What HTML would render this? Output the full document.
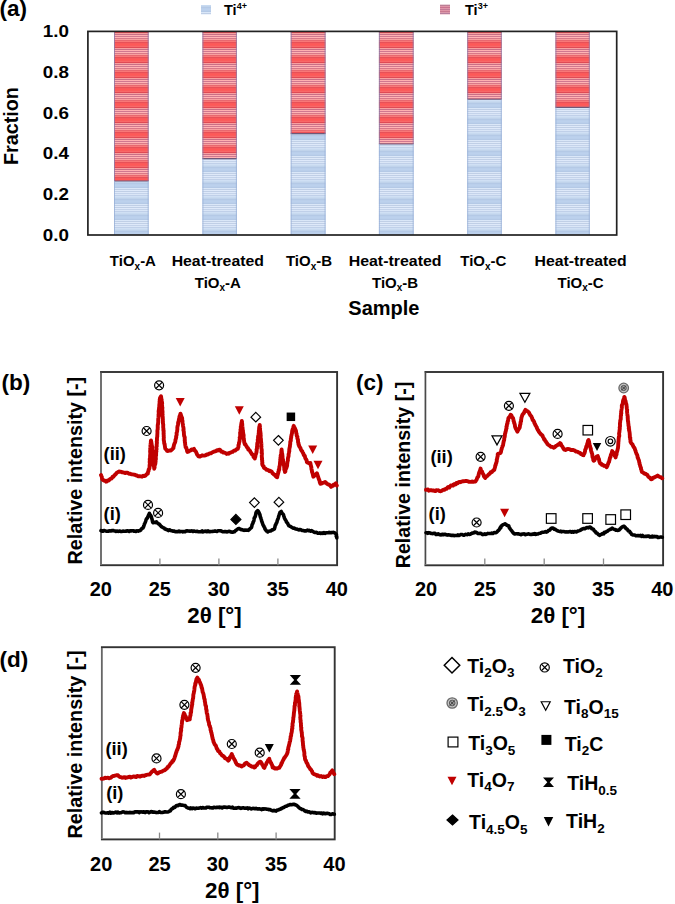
<!DOCTYPE html><html><head><meta charset="utf-8"><style>html,body{margin:0;padding:0;background:#fff;}svg{display:block;}text{font-family:"Liberation Sans", sans-serif;}</style></head><body>
<svg width="675" height="904" viewBox="0 0 675 904">
<defs>
<pattern id="pr" x="0" y="27" width="8" height="15" patternUnits="userSpaceOnUse"><rect y="0" width="8" height="1" fill="#e85058"/><rect y="1" width="8" height="1" fill="#f85a5a"/><rect y="2" width="8" height="1" fill="#ff5858"/><rect y="3" width="8" height="1" fill="#fa5c5c"/><rect y="4" width="8" height="1" fill="#f86868"/><rect y="5" width="8" height="1" fill="#e04a55"/><rect y="6" width="8" height="1" fill="#f8a0a0"/><rect y="7" width="8" height="1" fill="#c87088"/><rect y="8" width="8" height="1" fill="#ffb0b0"/><rect y="9" width="8" height="1" fill="#d07890"/><rect y="10" width="8" height="1" fill="#ffb4b4"/><rect y="11" width="8" height="1" fill="#d87888"/><rect y="12" width="8" height="1" fill="#f8a0a0"/><rect y="13" width="8" height="1" fill="#e86870"/><rect y="14" width="8" height="1" fill="#f87878"/></pattern>
<pattern id="pb" x="0" y="7" width="8" height="16" patternUnits="userSpaceOnUse"><rect y="0" width="8" height="1" fill="#b4c9e6"/><rect y="1" width="8" height="1" fill="#bacfeb"/><rect y="2" width="8" height="1" fill="#bcd1ed"/><rect y="3" width="8" height="1" fill="#bacfeb"/><rect y="4" width="8" height="1" fill="#b4c9e6"/><rect y="5" width="8" height="1" fill="#dae7f8"/><rect y="6" width="8" height="1" fill="#c0cfe6"/><rect y="7" width="8" height="1" fill="#dee9f9"/><rect y="8" width="8" height="1" fill="#c0cfe6"/><rect y="9" width="8" height="1" fill="#dee9fa"/><rect y="10" width="8" height="1" fill="#c4d3ea"/><rect y="11" width="8" height="1" fill="#dae6f7"/><rect y="12" width="8" height="1" fill="#c0d0e9"/><rect y="13" width="8" height="1" fill="#d0e0f4"/><rect y="14" width="8" height="1" fill="#c8daf0"/><rect y="15" width="8" height="1" fill="#c0d3eb"/></pattern>
</defs>
<rect width="675" height="904" fill="#fff"/>
<text x="-0.5" y="16.2" font-size="22.5" text-anchor="start" font-weight="bold" fill="#000">(a)</text>
<rect x="201" y="5" width="10" height="9.5" fill="url(#pb)"/>
<text x="224" y="14.8" font-size="14.5" text-anchor="start" font-weight="bold" fill="#000">Ti<tspan font-size="9" dy="-5.4">4+</tspan></text>
<rect x="440" y="4.8" width="10" height="9.6" fill="#e8a0b0"/>
<rect x="440" y="4.8" width="10" height="1" fill="#b07890"/>
<rect x="440" y="6.8" width="10" height="1" fill="#c06888"/>
<rect x="440" y="8.8" width="10" height="1" fill="#b87090"/>
<rect x="440" y="10.8" width="10" height="1" fill="#c07088"/>
<rect x="440" y="12.8" width="10" height="1" fill="#a87898"/>
<text x="465" y="14.8" font-size="14.5" text-anchor="start" font-weight="bold" fill="#000">Ti<tspan font-size="9" dy="-5.4">3+</tspan></text>
<rect x="114" y="31.3" width="34.7" height="149.7" fill="url(#pr)"/>
<rect x="114" y="181" width="34.7" height="53.8" fill="url(#pb)"/>
<line x1="114" y1="181" x2="148.7" y2="181" stroke="#705878" stroke-width="1.1"/>
<line x1="114.5" y1="31.3" x2="114.5" y2="181" stroke="#8a78a8" stroke-width="1" opacity="0.8"/>
<line x1="148.2" y1="31.3" x2="148.2" y2="181" stroke="#8a78a8" stroke-width="1" opacity="0.8"/>
<line x1="114.5" y1="181" x2="114.5" y2="234.8" stroke="#98b0d8" stroke-width="1" opacity="0.8"/>
<line x1="148.2" y1="181" x2="148.2" y2="234.8" stroke="#98b0d8" stroke-width="1" opacity="0.8"/>
<rect x="202.4" y="31.3" width="34.5" height="127.3" fill="url(#pr)"/>
<rect x="202.4" y="158.6" width="34.5" height="76.2" fill="url(#pb)"/>
<line x1="202.4" y1="158.6" x2="236.9" y2="158.6" stroke="#705878" stroke-width="1.1"/>
<line x1="202.9" y1="31.3" x2="202.9" y2="158.6" stroke="#8a78a8" stroke-width="1" opacity="0.8"/>
<line x1="236.4" y1="31.3" x2="236.4" y2="158.6" stroke="#8a78a8" stroke-width="1" opacity="0.8"/>
<line x1="202.9" y1="158.6" x2="202.9" y2="234.8" stroke="#98b0d8" stroke-width="1" opacity="0.8"/>
<line x1="236.4" y1="158.6" x2="236.4" y2="234.8" stroke="#98b0d8" stroke-width="1" opacity="0.8"/>
<rect x="290.7" y="31.3" width="34.9" height="102.3" fill="url(#pr)"/>
<rect x="290.7" y="133.6" width="34.9" height="101.2" fill="url(#pb)"/>
<line x1="290.7" y1="133.6" x2="325.6" y2="133.6" stroke="#705878" stroke-width="1.1"/>
<line x1="291.2" y1="31.3" x2="291.2" y2="133.6" stroke="#8a78a8" stroke-width="1" opacity="0.8"/>
<line x1="325.1" y1="31.3" x2="325.1" y2="133.6" stroke="#8a78a8" stroke-width="1" opacity="0.8"/>
<line x1="291.2" y1="133.6" x2="291.2" y2="234.8" stroke="#98b0d8" stroke-width="1" opacity="0.8"/>
<line x1="325.1" y1="133.6" x2="325.1" y2="234.8" stroke="#98b0d8" stroke-width="1" opacity="0.8"/>
<rect x="378.9" y="31.3" width="34.8" height="112.7" fill="url(#pr)"/>
<rect x="378.9" y="144" width="34.8" height="90.8" fill="url(#pb)"/>
<line x1="378.9" y1="144" x2="413.7" y2="144" stroke="#705878" stroke-width="1.1"/>
<line x1="379.4" y1="31.3" x2="379.4" y2="144" stroke="#8a78a8" stroke-width="1" opacity="0.8"/>
<line x1="413.2" y1="31.3" x2="413.2" y2="144" stroke="#8a78a8" stroke-width="1" opacity="0.8"/>
<line x1="379.4" y1="144" x2="379.4" y2="234.8" stroke="#98b0d8" stroke-width="1" opacity="0.8"/>
<line x1="413.2" y1="144" x2="413.2" y2="234.8" stroke="#98b0d8" stroke-width="1" opacity="0.8"/>
<rect x="467.2" y="31.3" width="34.6" height="68" fill="url(#pr)"/>
<rect x="467.2" y="99.3" width="34.6" height="135.5" fill="url(#pb)"/>
<line x1="467.2" y1="99.3" x2="501.8" y2="99.3" stroke="#705878" stroke-width="1.1"/>
<line x1="467.7" y1="31.3" x2="467.7" y2="99.3" stroke="#8a78a8" stroke-width="1" opacity="0.8"/>
<line x1="501.3" y1="31.3" x2="501.3" y2="99.3" stroke="#8a78a8" stroke-width="1" opacity="0.8"/>
<line x1="467.7" y1="99.3" x2="467.7" y2="234.8" stroke="#98b0d8" stroke-width="1" opacity="0.8"/>
<line x1="501.3" y1="99.3" x2="501.3" y2="234.8" stroke="#98b0d8" stroke-width="1" opacity="0.8"/>
<rect x="555.4" y="31.3" width="34.4" height="76.1" fill="url(#pr)"/>
<rect x="555.4" y="107.4" width="34.4" height="127.4" fill="url(#pb)"/>
<line x1="555.4" y1="107.4" x2="589.8" y2="107.4" stroke="#705878" stroke-width="1.1"/>
<line x1="555.9" y1="31.3" x2="555.9" y2="107.4" stroke="#8a78a8" stroke-width="1" opacity="0.8"/>
<line x1="589.3" y1="31.3" x2="589.3" y2="107.4" stroke="#8a78a8" stroke-width="1" opacity="0.8"/>
<line x1="555.9" y1="107.4" x2="555.9" y2="234.8" stroke="#98b0d8" stroke-width="1" opacity="0.8"/>
<line x1="589.3" y1="107.4" x2="589.3" y2="234.8" stroke="#98b0d8" stroke-width="1" opacity="0.8"/>
<rect x="87.9" y="31.4" width="528.8" height="203.6" fill="none" stroke="#222" stroke-width="1.7"/>
<text x="68.9" y="240.7" font-size="16.8" text-anchor="end" font-weight="bold" fill="#000" textLength="26.2" lengthAdjust="spacingAndGlyphs">0.0</text>
<text x="68.9" y="200" font-size="16.8" text-anchor="end" font-weight="bold" fill="#000" textLength="26.2" lengthAdjust="spacingAndGlyphs">0.2</text>
<text x="68.9" y="159.3" font-size="16.8" text-anchor="end" font-weight="bold" fill="#000" textLength="26.2" lengthAdjust="spacingAndGlyphs">0.4</text>
<text x="68.9" y="118.6" font-size="16.8" text-anchor="end" font-weight="bold" fill="#000" textLength="26.2" lengthAdjust="spacingAndGlyphs">0.6</text>
<text x="68.9" y="77.9" font-size="16.8" text-anchor="end" font-weight="bold" fill="#000" textLength="26.2" lengthAdjust="spacingAndGlyphs">0.8</text>
<text x="68.9" y="37.2" font-size="16.8" text-anchor="end" font-weight="bold" fill="#000" textLength="26.2" lengthAdjust="spacingAndGlyphs">1.0</text>
<text transform="translate(18.4,126.1) rotate(-90)" x="0" y="0" font-size="20.5" text-anchor="middle" font-weight="bold" textLength="78" lengthAdjust="spacingAndGlyphs">Fraction</text>
<text x="132.9" y="266.4" font-size="15" text-anchor="middle" font-weight="bold" fill="#000">TiO<tspan font-size="10" dy="3.5">x</tspan><tspan dy="-3.5">-A</tspan></text>
<text x="217.8" y="266.4" font-size="15" text-anchor="middle" font-weight="bold" fill="#000" textLength="92.3" lengthAdjust="spacingAndGlyphs">Heat-treated</text>
<text x="217.8" y="287.7" font-size="15" text-anchor="middle" font-weight="bold" fill="#000">TiO<tspan font-size="10" dy="3.5">x</tspan><tspan dy="-3.5">-A</tspan></text>
<text x="309" y="266.4" font-size="15" text-anchor="middle" font-weight="bold" fill="#000">TiO<tspan font-size="10" dy="3.5">x</tspan><tspan dy="-3.5">-B</tspan></text>
<text x="395.1" y="266.4" font-size="15" text-anchor="middle" font-weight="bold" fill="#000" textLength="92.8" lengthAdjust="spacingAndGlyphs">Heat-treated</text>
<text x="395.1" y="287.7" font-size="15" text-anchor="middle" font-weight="bold" fill="#000">TiO<tspan font-size="10" dy="3.5">x</tspan><tspan dy="-3.5">-B</tspan></text>
<text x="483.3" y="266.4" font-size="15" text-anchor="middle" font-weight="bold" fill="#000">TiO<tspan font-size="10" dy="3.5">x</tspan><tspan dy="-3.5">-C</tspan></text>
<text x="580.6" y="266.4" font-size="15" text-anchor="middle" font-weight="bold" fill="#000" textLength="92.2" lengthAdjust="spacingAndGlyphs">Heat-treated</text>
<text x="580.6" y="287.7" font-size="15" text-anchor="middle" font-weight="bold" fill="#000">TiO<tspan font-size="10" dy="3.5">x</tspan><tspan dy="-3.5">-C</tspan></text>
<text x="383.9" y="314.7" font-size="20" text-anchor="middle" font-weight="bold" fill="#000">Sample</text>
<text x="1.5" y="389.8" font-size="22.5" text-anchor="start" font-weight="bold" fill="#000">(b)</text>
<rect x="101" y="372" width="236.1" height="193.2" fill="none" stroke="#333" stroke-width="1.9"/>
<line x1="101" y1="372.9" x2="101" y2="564.3" stroke="#fff" stroke-width="2.2"/>
<line x1="101" y1="372.9" x2="101" y2="564.3" stroke="#6a6a6a" stroke-width="1.9"/>
<line x1="159.9" y1="565.2" x2="159.9" y2="558.4" stroke="#8a8a8a" stroke-width="1.3"/>
<line x1="218.9" y1="565.2" x2="218.9" y2="558.4" stroke="#8a8a8a" stroke-width="1.3"/>
<line x1="277.9" y1="565.2" x2="277.9" y2="558.4" stroke="#8a8a8a" stroke-width="1.3"/>
<text x="100.8" y="595.6" font-size="20" text-anchor="middle" font-weight="bold" fill="#000">20</text>
<text x="159.8" y="595.6" font-size="20" text-anchor="middle" font-weight="bold" fill="#000">25</text>
<text x="218.8" y="595.6" font-size="20" text-anchor="middle" font-weight="bold" fill="#000">30</text>
<text x="277.8" y="595.6" font-size="20" text-anchor="middle" font-weight="bold" fill="#000">35</text>
<text x="336.8" y="595.6" font-size="20" text-anchor="middle" font-weight="bold" fill="#000">40</text>
<text x="214.5" y="622.9" font-size="22" text-anchor="middle" font-weight="bold" fill="#000" textLength="54.5" lengthAdjust="spacingAndGlyphs">2θ [°]</text>
<text transform="translate(81.8,470.6) rotate(-90)" x="0" y="0" font-size="19.5" text-anchor="middle" font-weight="bold" textLength="187.6" lengthAdjust="spacingAndGlyphs">Relative intensity [-]</text>
<text x="103.6" y="460.1" font-size="18.3" text-anchor="start" font-weight="bold" fill="#000">(ii)</text>
<text x="103.6" y="519.9" font-size="18.3" text-anchor="start" font-weight="bold" fill="#000">(i)</text>
<path d="M101 475 L101.28 475.72 L101.76 476.73 L102.06 478.15 L102.4 479.4 L103.12 479.98 L104.01 480.48 L104.93 480.67 L106 481.7 L106.85 481.54 L107.62 480.36 L108.7 480.64 L109.56 479.52 L110.61 478.62 L111.3 478.6 L112.19 477.62 L112.66 476.68 L113.47 476.7 L114.17 475.69 L115.11 474.71 L115.8 474.1 L116.59 472.94 L117.17 472.43 L118.2 472 L118.9 471.4 L119.83 471.72 L120.88 471.63 L122.02 472.29 L122.9 472.3 L123.86 472.56 L125.03 473.07 L126.17 472.61 L127.33 472.6 L128.2 473.2 L129.25 473.76 L130.22 473.75 L131.26 474.23 L132.63 474.4 L133.6 474.6 L134.78 474.68 L135.74 475.27 L136.73 475.4 L137.87 476.22 L138.76 476.2 L139.8 476.3 L140.68 476.44 L141.98 476.68 L143.11 475.82 L143.99 476.17 L145.1 475.9 L145.81 475.12 L146.77 474.01 L147.8 473.7 L147.88 472.98 L148.17 471.39 L148.53 471.07 L148.66 469.59 L149.11 469.05 L149.47 468.01 L149.6 466.6 L149.56 465.47 L149.63 464.95 L149.91 463.1 L149.65 462.16 L149.71 461.4 L149.9 460.11 L149.71 459.25 L149.9 458.37 L150.17 457.47 L150.04 456.35 L150.15 454.7 L150.28 454.46 L150.32 453.44 L150.17 451.96 L150.1 451.19 L150.3 450 L150.2 448.47 L150.34 447.52 L150.47 446.34 L150.41 445.39 L150.53 444.57 L150.58 444.08 L150.89 442.22 L150.82 441.39 L151 440.5 L151.15 441.19 L151.54 443.24 L151.59 443.78 L151.63 444.46 L152 446 L152 446.74 L152.26 447.63 L152 449.5 L152.26 449.61 L152.33 450.48 L152.39 452.53 L152.58 453.22 L152.4 453.85 L152.43 455.3 L152.64 456.31 L152.62 456.7 L152.87 458.53 L152.95 459.34 L153 460.26 L152.83 461.02 L153 462 L153.14 462.6 L153.21 463.99 L153.5 465.56 L153.98 466.41 L154.17 468.12 L154.2 468.7 L154.6 467.43 L154.52 466.17 L154.73 465.02 L155.12 464.67 L155.42 463.09 L155.5 462 L155.63 461.33 L155.47 460.18 L155.87 459.31 L155.87 457.98 L155.71 457.32 L155.84 456.33 L156.17 454.89 L156.01 454.49 L156.2 452.64 L156.03 451.62 L156.41 451.34 L156.18 450.36 L156.58 449.17 L156.39 448.05 L156.38 446.47 L156.78 446.16 L156.67 445.48 L156.7 444.41 L156.93 442.68 L156.76 441.77 L156.83 441.1 L157 440 L156.96 438.91 L156.97 438.45 L157.12 436.95 L157.27 436.44 L157.27 435.46 L157.36 434.04 L157.43 432.47 L157.46 431.65 L157.34 431.33 L157.47 429.97 L157.75 429.06 L157.65 428.02 L157.8 427.31 L157.68 426.07 L157.8 424.75 L158.07 424.01 L158.04 423.29 L158.24 421.94 L158.19 421.01 L158.2 420.21 L158.24 419.04 L158.31 418.49 L158.46 417.41 L158.62 415.74 L158.5 415 L158.61 414.49 L158.81 412.6 L158.61 411.94 L158.68 410.71 L158.77 410.19 L159.14 409.44 L158.98 408.24 L159.27 406.61 L159.45 406.51 L159.27 405.5 L159.43 403.99 L159.75 403.37 L159.51 401.92 L159.74 400.82 L159.7 399.8 L160 398.47 L160 398 L161 396.3 L161.22 397.37 L161.21 398.39 L161.65 399.73 L161.63 401.39 L162 402 L162.17 403.52 L161.94 403.74 L161.97 405.31 L162.11 405.59 L162.22 407.45 L162.43 407.73 L162.21 409.46 L162.43 410.22 L162.29 410.51 L162.58 411.92 L162.38 413.48 L162.65 414.33 L162.48 415.39 L162.53 416.4 L162.73 416.82 L162.82 418.47 L162.76 418.59 L162.91 419.71 L162.79 420.63 L163 422 L162.87 422.67 L163.03 423.79 L163.26 424.77 L163.21 425.65 L163.2 426.47 L163.22 427.47 L163.46 429.06 L163.3 429.97 L163.65 430.57 L163.65 431.93 L163.58 433.37 L163.59 434.01 L163.76 435.53 L163.67 436.37 L163.87 437.15 L163.8 437.83 L163.72 438.59 L163.78 440.26 L164 441 L164.09 441.63 L164.21 443.38 L164.71 444.19 L164.66 444.72 L164.85 445.96 L164.99 446.94 L165.22 448.51 L165.5 449 L166.52 449.72 L167.06 450.85 L168 451 L168.92 450.68 L169.8 450.54 L171 450.5 L171.82 449.67 L172.55 448.84 L173.5 448 L173.55 446.74 L173.84 445.89 L174.07 444.47 L174.42 443.71 L174.78 443.03 L175.1 442.17 L175.34 441.42 L175.46 439.81 L175.94 438.61 L176 438 L176.23 437.16 L176.11 436.37 L176.59 435.14 L176.67 434.34 L176.57 433.03 L176.86 432.37 L177.13 431.36 L177.18 430.43 L177.37 429.21 L177.33 427.48 L177.43 426.85 L177.57 426.37 L177.89 425.14 L178.06 424.2 L178.15 422.45 L178.3 422 L178.68 421.22 L178.83 419.94 L179.15 418.37 L179.44 417.53 L179.44 416.49 L179.97 415.38 L180.23 415.17 L180.4 413.6 L180.8 414.57 L181.19 416 L181.71 417.03 L182 418 L182.19 418.54 L182.12 419.73 L182.48 420.78 L182.54 421.46 L182.47 422.75 L182.84 424.21 L182.97 424.77 L183.04 425.96 L183.14 426.58 L183.44 427.67 L183.61 429.48 L183.35 429.95 L183.8 431.51 L183.8 432 L183.9 432.75 L183.93 434.49 L184.05 435.09 L184.14 436.03 L184.59 436.6 L184.66 438.01 L184.8 439.22 L184.66 440.44 L184.89 440.48 L184.82 441.99 L185.12 442.78 L185.11 443.83 L185.31 445.37 L185.5 446 L185.62 447.26 L186.27 447.55 L186.62 449.18 L186.93 449.7 L187.03 450.8 L187.4 451.9 L188.63 451.53 L189.41 450.89 L190.5 450.5 L191.58 449.47 L192.67 449.8 L194 448.9 L194.54 450.4 L195.15 450.69 L195.88 451.63 L196.5 453 L197.12 454.6 L197.99 455.54 L198.5 456.3 L199.73 456.59 L201.04 456.03 L202.13 455.32 L203.31 455.61 L204.4 455.5 L205.7 455.33 L206.71 454.34 L208 454.5 L209.15 453.62 L209.94 453.38 L210.84 453.34 L211.9 452.6 L213.12 451.94 L214.01 451.58 L215 451.28 L216 451 L216.97 450.16 L218.08 450.51 L219.3 449.6 L220.22 450.02 L221.31 451.6 L222.05 451.38 L223 452.5 L224.11 452.55 L225.4 453.05 L226.7 454 L227.58 453.38 L228.69 453.73 L229.75 452.85 L230.6 452.63 L231.57 452.07 L232.6 451.9 L233.29 451.16 L234.52 450.49 L235.2 450.54 L236.21 449.59 L236.84 449.12 L237.8 448.9 L237.96 447.85 L238.38 447.31 L238.55 445.41 L238.41 445.17 L238.96 443.93 L239.03 442.42 L239.16 442.45 L239.53 441.38 L239.6 440 L239.89 438.72 L239.64 437.62 L239.91 437.2 L240.18 436.24 L240.16 435.29 L240.18 434.06 L240.12 433.31 L240.29 432.46 L240.56 430.78 L240.45 429.73 L240.75 429.22 L240.8 428 L240.79 426.53 L241.1 426.09 L241.18 424.7 L241.41 423.46 L241.43 422.96 L241.84 422.16 L241.8 421 L242.06 421.97 L241.91 422.72 L242.31 424.23 L242.16 424.47 L242.34 426.19 L242.42 426.73 L242.63 428.47 L242.56 428.49 L242.72 429.91 L242.96 430.67 L243 432 L243.25 433.26 L243.26 433.68 L243.57 434.79 L243.64 435.7 L243.52 437.29 L243.68 438.5 L243.89 438.66 L243.91 439.91 L244.21 441.49 L244.13 441.88 L244.4 443 L244.86 444.4 L245.41 444.26 L245.95 445.51 L246.86 446.92 L247.37 447.92 L248.02 448.06 L248.3 449.6 L249 450 L249.68 450.34 L250.23 451.57 L250.69 452.36 L251.19 452.85 L251.81 454.09 L252.66 454.69 L253.25 455.63 L253.58 457.15 L254.35 457.58 L254.8 458.5 L254.9 457.39 L255.32 456.79 L255.53 455.1 L256.09 453.65 L256.18 453.43 L256.5 452 L256.71 450.49 L256.53 449.52 L256.99 448.73 L257.03 448.44 L256.97 446.75 L257.33 446.13 L257.15 445.24 L257.28 443.75 L257.27 443.28 L257.74 442.15 L257.86 440.48 L257.68 439.97 L258.08 439.5 L258 438 L258.09 436.72 L258.23 435.98 L258.56 434.63 L258.64 434.23 L258.78 433.26 L258.83 431.76 L258.84 430.79 L259.16 429.48 L259.06 429.21 L259.21 427.44 L259.25 426.97 L259.5 426.44 L259.7 424.9 L259.94 426.44 L259.78 426.46 L259.8 427.92 L260.13 428.87 L260.03 429.84 L260.27 431.13 L260.41 432.33 L260.46 432.54 L260.62 433.73 L260.59 434.83 L260.75 435.64 L260.64 436.7 L260.69 438.41 L260.94 438.8 L261 440 L261.02 441.58 L261.12 441.78 L261.3 443.28 L261.43 443.71 L261.28 445.54 L261.49 446.68 L261.22 447.04 L261.31 447.96 L261.71 449.43 L261.76 450.23 L261.79 451.36 L261.6 452.76 L261.94 453.05 L261.86 454.66 L261.76 455.42 L261.79 456.27 L261.89 457.75 L262.11 458.35 L261.91 459.52 L262.24 460.4 L262.15 461.46 L262.4 462.88 L262.17 463.42 L262.4 464.9 L262.93 465.83 L263.61 466.2 L263.99 467.74 L264.7 468.4 L265.56 468.61 L266.42 469.8 L267.32 469.82 L268.24 470.11 L269.35 471.2 L270.05 470.77 L271.09 471.22 L271.9 472 L272.46 473.2 L273.38 473.87 L274.13 474.69 L274.91 474.66 L275.49 475.84 L276.5 476.99 L277.2 477.3 L277.27 476.4 L277.62 475.24 L277.76 473.96 L278.14 473.63 L278.21 472.12 L278.72 471.61 L278.71 469.66 L279.24 469.56 L279.3 468 L279.42 466.48 L279.73 465.82 L279.85 465.05 L279.94 463.52 L280.05 462.56 L280.03 462.21 L280.33 460.46 L280.21 459.67 L280.46 458.62 L280.43 457.44 L280.8 457.13 L280.65 455.74 L281.06 454.13 L281.22 453.19 L281.26 452.64 L281.4 451.34 L281.44 450.62 L281.6 449.5 L281.7 450.72 L281.85 451.52 L281.81 452.76 L282.13 453.38 L282.37 455.02 L282.38 455.4 L282.52 456.36 L282.52 457.76 L282.64 458.81 L282.94 459.41 L283.12 460.5 L283.2 462 L283.46 463.31 L283.54 463.51 L283.71 464.87 L284.06 465.6 L284.19 467.55 L284.31 468.35 L284.27 469.53 L284.56 470.5 L284.9 470.63 L284.9 472 L285.37 471.47 L285.43 469.84 L286.05 468.62 L286.46 467.75 L286.78 466.61 L287 466 L287.14 465.46 L287.17 463.74 L287.43 462.8 L287.39 461.65 L287.58 461.48 L287.93 460.43 L287.87 459.31 L287.99 458.03 L288.34 456.85 L288.58 456.06 L288.6 455.42 L288.56 454.54 L288.91 452.88 L289.12 451.74 L289.34 451.09 L289.23 450.29 L289.41 448.64 L289.67 447.5 L289.84 446.73 L289.91 446.53 L290 445 L290.2 444.18 L290.26 442.45 L290.31 441.61 L290.71 440.93 L290.84 440.44 L290.85 438.7 L291.23 437.47 L291.13 436.84 L291.34 435.84 L291.56 435.09 L291.87 433.67 L292.05 432.97 L292.02 432.48 L292.23 430.61 L292.5 430 L292.66 429.13 L293.3 428.26 L293.44 426.67 L293.8 425.9 L294.04 427.08 L294.7 427.78 L295.18 428.9 L295.73 430.24 L296 431 L296.11 432.44 L296.23 433.03 L296.58 433.71 L296.65 435.31 L296.84 436.06 L297.42 436.61 L297.33 438.12 L297.66 439.16 L297.99 439.64 L297.99 440.78 L298.09 442.43 L298.59 443.24 L298.49 444.38 L298.99 444.96 L299.1 446 L299.68 446.82 L299.97 447.32 L300.46 448.12 L300.98 449.77 L301.62 450.75 L302.11 450.99 L302.53 452.05 L303 453 L303.56 453.98 L303.79 455.06 L304.51 455.54 L304.91 456.27 L305.1 457.46 L305.74 459.19 L306.18 459.46 L306.67 460.41 L306.86 462 L307.4 462.5 L308.45 462.91 L309.47 463.43 L310.4 463.1 L310.61 464.52 L310.93 465.59 L311.04 466.49 L311.32 467.07 L311.4 468.47 L311.57 469.83 L311.82 469.9 L312.03 471.94 L312.35 472.12 L312.44 473.06 L312.93 474.75 L313.16 475.91 L313.3 476.7 L313.85 476.1 L314.69 475.65 L315.59 475.03 L316.01 474.3 L316.9 473.2 L317.38 474.65 L317.38 474.8 L317.7 475.58 L318.31 477.4 L318.54 478.38 L318.86 478.75 L318.97 479.5 L319.55 480.58 L319.69 481.79 L319.89 482.57 L320.4 483.8 L321.27 483.68 L322.27 482.88 L323.47 482.72 L324.38 482.49 L325.2 482 L325.86 482.59 L326.86 483.67 L327.67 484.28 L328.59 484.43 L329.56 484.98 L330.39 485.75 L331.1 486.8 L331.84 485.75 L333.08 485.89 L333.72 484.63 L334.86 484.25 L335.8 483.2 L336.17 484.39 L336.8 485.6" fill="none" stroke="#c00000" stroke-width="3.9" stroke-linejoin="round" stroke-linecap="round"/>
<path d="M101 530.7 L101.94 531.1 L102.9 531.25 L103.91 530.49 L105.08 530.83 L105.84 531.02 L106.83 531.22 L108.08 531.25 L109.05 530.81 L110 531 L110.96 530.9 L112.16 530.57 L113.16 530.52 L113.88 530.79 L115.16 531.07 L115.95 531.5 L116.89 531.05 L118.01 531.39 L119.1 531.28 L119.94 530.94 L120.86 531.52 L122.06 531.43 L122.87 531.11 L124.11 531.27 L125 531.2 L125.85 531.14 L127.15 530.87 L127.88 530.92 L129.08 531.5 L129.86 530.72 L130.9 530.89 L132.01 530.69 L132.93 530.7 L134.19 531.27 L135 531 L135.84 531.45 L136.84 530.75 L138.19 531.14 L139.09 530.69 L140 530.7 L140.63 530.18 L141.34 529.03 L142.21 528.16 L143 528 L143.33 527.32 L143.83 526 L144.18 524.96 L144.36 524.11 L144.84 523.27 L145.41 521.92 L145.65 521.27 L146 520 L146.45 518.76 L147.06 518.53 L147.57 517.39 L148.08 516.43 L148.49 515.24 L148.84 514.48 L149.4 513.4 L149.77 514.18 L150.58 515.37 L151 516 L151.39 516.84 L151.64 518.18 L152.05 519.25 L152.4 520.94 L152.54 521.75 L153 522.7 L154.28 522.28 L155.33 522.62 L156.5 521.8 L157.15 522.58 L158.03 523.58 L159 524 L159.93 524.77 L160.34 525.58 L161.27 526.49 L162 527 L162.94 527.62 L164 527.96 L164.76 528.89 L165.62 529.07 L166.62 529.62 L167.6 529.8 L168.51 530.58 L169.66 529.8 L170.68 530.42 L171.63 530.68 L172.85 531.23 L173.88 531 L175 531.5 L175.89 531.75 L177.18 531.49 L177.89 531.77 L178.96 531.1 L179.85 531.7 L181.12 531.53 L181.99 531.43 L182.89 531.85 L183.94 531.47 L185.13 531.65 L185.99 531.05 L187.02 530.85 L188.13 531.08 L189.14 530.96 L190 531.2 L190.95 530.95 L191.97 530.89 L192.8 531.5 L193.91 531 L194.92 531.28 L195.97 531.47 L197.06 531.19 L198.17 531.75 L198.82 531.74 L200.16 531.71 L200.86 531.78 L202.05 530.91 L202.8 531.96 L204.06 531.21 L205 531.5 L205.84 531.05 L206.89 531.68 L207.94 530.94 L209.16 531.58 L209.87 531.63 L211.04 531.45 L212.07 531.51 L213.12 531.39 L213.88 531.17 L215 530.9 L216.01 531.23 L216.98 531.44 L218.02 530.82 L218.89 530.74 L220 530.71 L220.99 530.87 L222 531.32 L223.02 531.78 L223.8 531.81 L225 531.5 L226.05 531.62 L227.19 531.97 L228.14 531.56 L229.43 531.23 L230.37 531.9 L231.19 531.92 L232.51 532.32 L233.5 531.9 L234.43 531.8 L235.5 530.62 L236.5 530 L237.91 528.74 L239 528.5 L240.09 529.01 L240.94 529.65 L241.95 529.6 L243 530 L244.07 530.38 L245 530.09 L246.15 530.3 L247.37 530.09 L248.3 530.4 L249.33 529.49 L250.1 528.55 L251 528 L251.38 527.52 L251.81 526.32 L252.06 524.8 L252.42 524.1 L252.93 523.31 L253.07 522.24 L253.78 521.05 L254 520 L254.11 518.78 L254.38 517.66 L255.03 517.12 L255.21 516.32 L255.6 515.12 L255.77 514.14 L256.09 513.11 L256.3 512 L257.6 510.6 L258.47 511.48 L259.2 513 L259.58 513.95 L259.93 514.56 L260.01 515.49 L260.55 517.46 L260.82 517.86 L261.2 519.32 L261.4 519.73 L261.61 520.91 L262 522 L262.36 522.92 L262.91 524.48 L263.11 525.07 L263.53 525.58 L264.27 527.08 L264.74 527.94 L265 529 L265.51 529.6 L266.44 530.93 L267.29 531.15 L267.8 531.9 L268.83 531.16 L269.99 530.98 L271 531 L271.96 529.8 L273 529.87 L274.3 529 L274.5 528.51 L274.85 527.41 L275.22 525.47 L275.81 524.72 L276.17 523.66 L276.25 523.3 L276.87 522.39 L277.24 520.54 L277.5 520 L277.91 519.16 L278.2 518.33 L278.47 517.3 L279.02 515.18 L279.09 514.81 L279.77 513.11 L280 512.5 L281.3 511.5 L281.79 512.59 L282.3 513.56 L283 514 L283.41 514.52 L283.78 516.08 L284.23 517.19 L284.52 518.33 L285.03 519.16 L285.5 520 L286.07 520.79 L286.49 522.07 L287.24 522.95 L287.61 523.29 L288.1 524.4 L288.9 525.7 L290.13 526.31 L290.96 526.84 L292 527.5 L293.32 528.24 L294.29 528.04 L295.35 529.05 L296.5 529 L297.53 529.45 L298.71 529.94 L299.87 529.51 L300.63 529.74 L301.89 530.35 L303 530.5 L304.19 530.91 L304.95 530.83 L306.32 530.85 L307.3 530.18 L308.47 530.75 L309.4 530.4 L310.67 531.22 L311.74 530.68 L313 531.5 L314.16 532.19 L315.16 532.5 L316.59 532.29 L317.6 533.14 L318.7 533.3 L319.73 532.91 L320.69 533.43 L321.95 533.04 L322.71 533.35 L324.02 532.65 L324.99 533.31 L326 532.8 L327.23 532.77 L328.13 532.78 L329.09 532.29 L330.16 532.79 L331.3 532.59 L332.39 532.48 L333.5 532.4 L334.61 532.7 L336 534 L336.4 534.86 L336.24 536.15 L336.71 536.62 L336.8 538" fill="none" stroke="#000" stroke-width="3.6" stroke-linejoin="round" stroke-linecap="round"/>
<circle cx="146.6" cy="431" r="4.5" fill="#fff" stroke="#000" stroke-width="1.2"/>
<path d="M143.36 427.76 L149.84 434.24 M149.84 427.76 L143.36 434.24" stroke="#000" stroke-width="1.2"/>
<circle cx="159.1" cy="385.3" r="4.5" fill="#fff" stroke="#000" stroke-width="1.2"/>
<path d="M155.86 382.06 L162.34 388.54 M162.34 382.06 L155.86 388.54" stroke="#000" stroke-width="1.2"/>
<polygon points="175.7,398.05 184.7,398.05 180.2,406.55" fill="#c00000" stroke="none" stroke-width="1.2"/>
<polygon points="234.8,406.15 243.8,406.15 239.3,414.65" fill="#c00000" stroke="none" stroke-width="1.2"/>
<polygon points="255.8,412.4 260.6,417.2 255.8,422 251,417.2" fill="#fff" stroke="#000" stroke-width="1.2"/>
<rect x="286.65" y="412.55" width="8.5" height="8.5" fill="#000" stroke="none" stroke-width="1.2"/>
<polygon points="278.4,435.5 283.2,440.3 278.4,445.1 273.6,440.3" fill="#fff" stroke="#000" stroke-width="1.2"/>
<polygon points="308.2,445.55 317.2,445.55 312.7,454.05" fill="#c00000" stroke="none" stroke-width="1.2"/>
<polygon points="313.5,460.65 322.5,460.65 318,469.15" fill="#c00000" stroke="none" stroke-width="1.2"/>
<circle cx="148" cy="504.9" r="4.5" fill="#fff" stroke="#000" stroke-width="1.2"/>
<path d="M144.76 501.66 L151.24 508.14 M151.24 501.66 L144.76 508.14" stroke="#000" stroke-width="1.2"/>
<circle cx="158.1" cy="512.9" r="4.5" fill="#fff" stroke="#000" stroke-width="1.2"/>
<path d="M154.86 509.66 L161.34 516.14 M161.34 509.66 L154.86 516.14" stroke="#000" stroke-width="1.2"/>
<polygon points="235.9,514.4 240.9,519.4 235.9,524.4 230.9,519.4" fill="#000" stroke="#000" stroke-width="1.2"/>
<polygon points="254.4,497.8 259.2,502.6 254.4,507.4 249.6,502.6" fill="#fff" stroke="#000" stroke-width="1.2"/>
<polygon points="278.9,497.4 283.7,502.2 278.9,507 274.1,502.2" fill="#fff" stroke="#000" stroke-width="1.2"/>
<text x="356" y="389.6" font-size="22.5" text-anchor="start" font-weight="bold" fill="#000">(c)</text>
<rect x="425.4" y="372" width="237.7" height="193.3" fill="none" stroke="#333" stroke-width="1.9"/>
<line x1="425.4" y1="372.9" x2="425.4" y2="564.4" stroke="#fff" stroke-width="2.2"/>
<line x1="425.4" y1="372.9" x2="425.4" y2="564.4" stroke="#4a4a4a" stroke-width="1.4"/>
<line x1="484.8" y1="565.3" x2="484.8" y2="558.5" stroke="#8a8a8a" stroke-width="1.3"/>
<line x1="544.2" y1="565.3" x2="544.2" y2="558.5" stroke="#8a8a8a" stroke-width="1.3"/>
<line x1="603.5" y1="565.3" x2="603.5" y2="558.5" stroke="#8a8a8a" stroke-width="1.3"/>
<text x="426" y="595.8" font-size="20" text-anchor="middle" font-weight="bold" fill="#000">20</text>
<text x="485.07" y="595.8" font-size="20" text-anchor="middle" font-weight="bold" fill="#000">25</text>
<text x="544.15" y="595.8" font-size="20" text-anchor="middle" font-weight="bold" fill="#000">30</text>
<text x="603.22" y="595.8" font-size="20" text-anchor="middle" font-weight="bold" fill="#000">35</text>
<text x="662.3" y="595.8" font-size="20" text-anchor="middle" font-weight="bold" fill="#000">40</text>
<text x="558" y="622.9" font-size="22" text-anchor="middle" font-weight="bold" fill="#000" textLength="54.5" lengthAdjust="spacingAndGlyphs">2θ [°]</text>
<text transform="translate(410,475) rotate(-90)" x="0" y="0" font-size="19.5" text-anchor="middle" font-weight="bold" textLength="186.5" lengthAdjust="spacingAndGlyphs">Relative intensity [-]</text>
<text x="430.4" y="463.1" font-size="18.3" text-anchor="start" font-weight="bold" fill="#000">(ii)</text>
<text x="428.6" y="520.3" font-size="18.3" text-anchor="start" font-weight="bold" fill="#000">(i)</text>
<path d="M426 489.8 L427.04 489.75 L428.01 489.51 L428.81 490.69 L430.15 490.25 L431.03 490.12 L432 490.5 L433.2 490.45 L434.36 490.86 L435.39 491.11 L436.26 490.12 L437.32 490.32 L438.37 490.21 L439.65 491.14 L440.69 491.26 L441.8 490.8 L442.88 489.84 L443.66 489.73 L444.38 489.87 L445.35 488.96 L446.41 488.91 L447.33 487.82 L448.16 487.08 L449.28 487.52 L450 486.5 L450.84 485.54 L451.8 485.44 L453.01 485.6 L453.93 484.2 L454.86 484.48 L455.76 484.33 L456.47 482.96 L457.7 483.38 L458.62 482.23 L459.5 482 L460.6 482.2 L461.47 481.63 L462.59 481.32 L463.74 481.29 L464.71 481.17 L465.95 480.94 L467.02 481.05 L468 481.3 L468.89 481.8 L470.03 481.83 L471.36 481.81 L472.14 481.36 L473.2 481.91 L474.57 481.61 L475.5 481.5 L475.98 480.42 L476.63 479.68 L477.05 478.41 L477.39 477.41 L478 477 L478.41 476.01 L478.51 475.31 L478.88 473.75 L479.16 472.55 L479.76 471.57 L479.82 470.69 L480.2 470.09 L480.6 468.6 L480.92 470.23 L481.37 471.23 L482.09 471.58 L482.5 473 L483.03 473.76 L483.48 474.67 L484.07 476.54 L484.86 477.47 L485.2 478 L485.84 477.02 L486.96 476.01 L487.69 475.52 L488.59 474.47 L489.32 474.07 L490 473.5 L490.72 472.21 L491.85 472.05 L492.45 471.21 L493.6 470.23 L494.3 469.8 L494.6 468.43 L494.72 468.15 L495.21 466.54 L495.23 465.45 L495.72 464.92 L495.86 463.63 L496.27 463.2 L496.5 462 L496.8 461.07 L496.73 459.47 L497.12 458.82 L497.29 457.41 L497.5 456.69 L497.69 456.25 L497.72 454.29 L497.9 453.8 L499.41 453.32 L500.6 452.9 L501.04 451.65 L501.05 451.29 L501.41 449.56 L501.7 449.05 L501.85 447.98 L502.31 446.98 L502.47 446.21 L503.04 445.39 L503.2 444 L503.33 443.23 L503.55 442.28 L503.62 441.41 L504.18 439.99 L504.21 439.03 L504.41 437.47 L504.79 436.7 L504.67 435.56 L504.9 435.35 L505.01 433.56 L505.48 432.66 L505.41 432.11 L505.83 431.03 L506 430 L506.29 428.56 L506.56 428.24 L506.44 426.59 L506.83 426 L506.95 424.58 L507.21 423.6 L507.5 423.4 L507.53 422.08 L507.97 420.63 L508.21 420.48 L508.25 418.91 L508.5 418 L509.37 416.93 L509.92 416.29 L510.7 414.7 L511.39 415.35 L511.75 416.17 L512.4 417.7 L513 418 L513.37 419.45 L513.63 420.38 L513.57 421.02 L514.18 422.48 L514.15 422.91 L514.55 423.85 L514.76 424.53 L514.97 426.01 L515.06 426.6 L515.5 428 L516.16 429.2 L516.62 429.95 L517.05 431.12 L517.4 431.6 L518.08 430.19 L518.51 429.54 L519.05 428.65 L519.5 428 L519.73 427.47 L519.97 425.73 L520.13 424.93 L520.51 423.77 L520.46 423.16 L520.6 422.1 L521.14 421.02 L521.07 419.96 L521.39 418.61 L521.43 417.59 L521.71 416.9 L522 416 L522.48 414.7 L522.97 414.02 L523.84 413.07 L524.29 412.1 L524.71 411.15 L525.4 409.9 L526.42 410.65 L527.51 411.27 L528.5 412 L528.96 412.6 L529.46 413.78 L530.05 414.74 L530.44 415.37 L531.31 416.13 L531.7 417.3 L532.19 418.25 L532.56 419.75 L533.03 420.47 L533.45 420.65 L534.21 422.02 L534.35 422.92 L535 424 L535.45 425.21 L535.79 425.6 L536.61 427.11 L536.76 427.62 L537.32 428.94 L537.9 430.08 L538.45 430.67 L538.8 431.6 L539.6 432.77 L540.3 433.37 L541.01 434.53 L541.77 434.79 L542.45 435.55 L543 437 L543.66 437.98 L544.1 439.28 L544.68 439.57 L545.31 440.96 L545.79 441.31 L546.28 442.28 L546.94 442.98 L547.4 444.1 L548.22 444.79 L549.09 445.17 L550 446 L551.09 446.83 L551.95 446.84 L552.8 447.13 L553.9 447.8 L554.79 447.12 L556 445.81 L557 445.5 L558.17 444.51 L559.14 444.27 L560 443.1 L560.85 443.74 L561.3 445.48 L562 446 L562.33 446.4 L563.08 447.8 L563.74 449 L564.1 449.6 L565.42 449.95 L566.71 449.22 L568 449 L569.13 449.08 L570.06 449.5 L571.12 450.09 L572.31 449.83 L573.3 450 L574.08 450.26 L575.14 450.87 L576.15 451.62 L577.25 451.59 L578 452 L578.89 452.67 L580.03 452.89 L580.76 453.95 L581.53 453.93 L582.77 455.03 L583.5 455.2 L583.86 453.74 L584.37 453.35 L584.7 452.65 L585.08 451 L585.15 449.83 L585.65 449.03 L586 448 L586.19 446.65 L586.68 446.11 L586.88 445.54 L587.3 443.5 L587.53 443.32 L587.8 442.21 L587.99 440.78 L588.5 440 L588.89 441.09 L589.07 441.67 L589.25 443.06 L589.41 444.16 L589.76 445.55 L590.03 445.9 L590.1 446.62 L590.5 448 L590.85 448.54 L590.83 449.59 L591.25 451.29 L591.53 452.24 L591.56 452.35 L592.09 453.67 L592.31 454.68 L592.34 455.56 L592.56 457.24 L592.99 457.6 L593.19 458.62 L593.28 460.15 L593.7 460.7 L594.4 460.31 L595.01 459.03 L595.7 458 L596.65 456.55 L597.8 456.1 L598.32 457.55 L598.41 458.65 L598.95 459.06 L599.21 460.83 L599.51 461.88 L599.75 462.32 L600.2 463.5 L601.22 463.69 L601.99 464.91 L603 465 L603.92 465.87 L604.75 465.74 L605.72 466.31 L606.7 467.2 L607.35 465.93 L607.64 464.7 L608.09 463.95 L608.5 462.56 L609 462 L609.14 461.37 L609.52 459.74 L609.75 458.79 L610.06 457.52 L610.52 456.87 L610.61 456.28 L610.87 454.81 L611.46 453.66 L611.6 453.45 L612.03 451.72 L612.2 451.1 L613.04 452.29 L614 453 L614.35 454.6 L614.68 455.7 L615.2 456 L615.6 457.4 L615.85 455.95 L616.22 455.05 L616.56 454.36 L616.61 452.94 L616.98 451.86 L617.35 450.72 L617.47 450.14 L617.64 449.34 L618 448 L618.04 447.17 L618.2 445.79 L618.22 444.54 L618.22 444.39 L618.36 443.18 L618.37 442.07 L618.55 441 L618.61 439.52 L618.71 438.7 L618.72 438.24 L618.87 436.89 L619.21 436.3 L619.28 435.4 L619.07 433.75 L619.12 433.2 L619.46 431.84 L619.44 431.17 L619.64 429.72 L619.79 428.84 L619.79 427.65 L619.67 427.45 L620.01 426.23 L620 425 L619.92 423.49 L620.06 422.67 L620.22 421.87 L620.22 420.79 L620.56 419.65 L620.74 419.08 L620.79 417.73 L620.77 417.2 L620.84 415.45 L621.13 415.3 L621.01 413.5 L621.34 413.12 L621.12 411.72 L621.24 411.32 L621.38 410.46 L621.7 408.54 L621.78 407.88 L621.9 407.36 L621.81 405.55 L622 405 L622.47 403.9 L622.75 403.19 L622.96 402.33 L623.2 400.9 L623.26 400.16 L623.7 398.94 L624.18 397.5 L624.3 396.9 L624.68 397.41 L624.93 399.26 L625.03 399.99 L625.59 401.1 L625.69 401.69 L625.77 402.82 L626.19 403.66 L626.5 405 L626.52 405.6 L626.78 407.19 L626.7 407.72 L626.91 408.94 L627.17 409.84 L627.02 411.42 L627.06 412.07 L627.23 413.35 L627.42 414.29 L627.37 415.18 L627.64 415.96 L627.81 417.36 L627.65 417.77 L627.84 418.68 L627.82 419.76 L627.98 421.22 L628.18 421.57 L628.23 422.97 L628.35 423.63 L628.5 425 L628.46 425.47 L628.96 427.3 L628.72 428.27 L629.21 429.12 L628.99 430.05 L629.25 430.73 L629.42 431.54 L629.7 433.25 L629.72 434.58 L629.86 434.84 L629.82 435.73 L629.86 437.44 L630.32 437.93 L630.19 439.32 L630.58 440.65 L630.44 441.5 L630.7 442.2 L631.45 443.4 L631.86 443.72 L632.68 444.8 L633.11 445.99 L633.73 447.23 L634.4 447.8 L634.66 448.32 L635.15 449.98 L635.61 451.09 L636 452.37 L636.2 452.9 L636.42 453.7 L636.95 454.48 L637.36 455.59 L637.62 457.5 L638 458 L638.11 458.49 L638.53 459.65 L638.92 460.43 L639.25 462.36 L639.51 462.88 L639.58 464.13 L639.96 464.86 L640.16 465.88 L640.57 467.29 L640.95 467.56 L640.98 468.86 L641.37 469.75 L641.5 470.45 L641.9 471.9 L642.75 472.31 L643.94 473.25 L644.82 473.77 L645.6 473.7 L646.57 474.63 L647.3 474.82 L648.03 476.22 L648.66 476.98 L649.71 477.68 L650.37 478.28 L651.1 479.3 L652.01 479.15 L652.86 477.81 L654.1 477.52 L655 477 L656.13 476.48 L657.6 475.6 L658.47 476.23 L659.41 476.71 L660.39 477.11 L661.13 477.41 L662.2 478.3" fill="none" stroke="#c00000" stroke-width="3.9" stroke-linejoin="round" stroke-linecap="round"/>
<path d="M426 532.7 L427.16 532.88 L427.84 533.36 L428.9 532.64 L430.01 532.94 L431 533.4 L431.89 533.55 L432.85 533.61 L434.04 533.27 L434.96 533.39 L435.98 534.39 L437.02 534.35 L438.1 533.82 L439.2 534.62 L440 534.5 L440.9 534.94 L442.08 534.28 L443.37 534.79 L444.36 534.39 L445.43 534.38 L446.28 534.8 L447.25 535.11 L448.39 534.86 L449.66 535.07 L450.79 535.36 L451.7 535.3 L452.89 535.33 L453.94 535.63 L454.68 535.46 L455.79 535.44 L456.96 535.47 L457.77 534.94 L459.06 535.53 L460 535 L461.13 534.43 L462.13 534.43 L463.15 535.13 L464.02 535.2 L465.29 534.4 L466.14 534.54 L467.45 534.62 L468.2 533.94 L469.4 534.4 L470.28 534.26 L471.34 533.53 L472.5 533 L473.48 532.97 L474.59 532.14 L475.7 532.3 L476.95 532.74 L477.98 533.44 L479 533.5 L480.35 533.19 L481.29 533.57 L482.53 534.59 L483.7 534.4 L484.87 533.74 L485.67 534.45 L486.92 533.83 L487.89 533.42 L489.09 533.53 L490 533.5 L491.17 533.49 L491.86 533.05 L492.94 533.53 L494.1 532.46 L494.95 532.68 L496.1 532.7 L497.05 531.88 L497.99 530.74 L499 530 L499.4 529.19 L500.13 527.67 L500.78 527.84 L501.22 526.01 L502 525.5 L503.07 524.68 L503.91 524.37 L505 523.8 L505.9 524.44 L507.01 525.44 L508 525.5 L508.8 525.89 L509.22 527.6 L509.95 528.5 L510.45 529.25 L511 530 L511.67 530.66 L512.57 532.21 L513.35 532.9 L513.9 533.6 L514.84 533.99 L516.03 533.81 L517 533.74 L517.99 533.9 L518.81 533.92 L520 534.2 L520.99 534.76 L522.12 534.09 L523.09 533.96 L524.19 533.87 L525.12 534.7 L526.36 534.25 L527.47 534.11 L528.38 533.87 L529.49 534.15 L530.73 534.44 L531.7 534.4 L532.91 534.09 L533.94 534.22 L534.64 533.63 L535.88 534.39 L536.83 534.01 L537.9 533.98 L538.79 533.42 L540 533.3 L541.26 532.78 L542.1 532.23 L543.17 532.23 L544.48 531.9 L545.46 531.61 L546.64 532.07 L547.7 531.4 L548.69 530.27 L549.66 530.31 L550.5 529 L551.84 528.09 L553.1 528.1 L554.19 529.15 L554.97 528.97 L556 530 L556.98 530.51 L558.35 531.09 L559.3 531.4 L560.56 531.16 L561.41 531.82 L562.62 531.52 L563.72 531.52 L564.56 531.68 L565.64 531.99 L566.85 531.92 L568 532 L569.11 531.73 L570.14 531.46 L571.4 532.07 L572.5 531.51 L573.42 532.25 L574.38 531.55 L575.39 531.61 L576.6 532 L577.67 531.05 L578.65 530.92 L579.5 530.6 L580.46 530.17 L581.4 529.5 L582.59 528.94 L583.8 528.48 L584.93 528.66 L586 528 L587.34 527.46 L588.58 527.86 L589.7 527 L590.78 527.42 L591.91 528.82 L593 529 L593.45 529.26 L594.19 530.77 L594.91 531.25 L595.6 531.9 L596 533 L597.03 533.12 L597.66 533.75 L598.6 534.73 L599.7 535.3 L600.69 534.47 L601.81 534.19 L602.46 533.5 L603.66 533.83 L604.4 532.37 L605.5 532.4 L606.49 531.52 L607.44 531.2 L608.18 530.43 L609 530 L610.19 529.32 L611.06 529.18 L612.2 528.1 L612.98 528.82 L613.89 529.19 L615 529.5 L615.96 530.2 L616.82 530.17 L618 530.4 L618.96 530.06 L620.18 528.94 L621 528 L621.82 527.13 L622.77 526.73 L623.8 526.2 L624.49 526.57 L625.5 527.76 L626.12 528.84 L627 529 L627.66 529.89 L628.41 531.03 L629.46 531.19 L630.19 532.61 L630.77 532.89 L631.62 534.32 L632.4 534.7 L633.38 535.06 L634.68 534.97 L635.79 535.6 L636.76 535.76 L638 535.5 L639.07 535.91 L640.4 535.35 L641.53 536.34 L642.43 535.38 L643.49 536.52 L644.58 536.55 L645.9 536.2 L646.77 536.53 L647.76 535.97 L649.01 535.95 L649.88 536.93 L651.04 536.95 L652.16 536.09 L652.87 536.99 L654.06 536.22 L655 536.8 L656.04 536.56 L657.06 536.48 L657.94 537.51 L659.1 537.45 L660.06 537.07 L661.11 537.06 L662.3 537.2" fill="none" stroke="#000" stroke-width="3.6" stroke-linejoin="round" stroke-linecap="round"/>
<circle cx="480.6" cy="456.8" r="4.5" fill="#fff" stroke="#000" stroke-width="1.2"/>
<path d="M477.36 453.56 L483.84 460.04 M483.84 453.56 L477.36 460.04" stroke="#000" stroke-width="1.2"/>
<polygon points="492,435.9 502,435.9 497,444.9" fill="#fff" stroke="#000" stroke-width="1.2"/>
<circle cx="508.9" cy="405.8" r="4.5" fill="#fff" stroke="#000" stroke-width="1.2"/>
<path d="M505.66 402.56 L512.14 409.04 M512.14 402.56 L505.66 409.04" stroke="#000" stroke-width="1.2"/>
<polygon points="519.9,393.3 529.9,393.3 524.9,402.3" fill="#fff" stroke="#000" stroke-width="1.2"/>
<circle cx="557.6" cy="433.9" r="4.5" fill="#fff" stroke="#000" stroke-width="1.2"/>
<path d="M554.36 430.66 L560.84 437.14 M560.84 430.66 L554.36 437.14" stroke="#000" stroke-width="1.2"/>
<rect x="583.05" y="425.45" width="9.5" height="9.5" fill="#fff" stroke="#000" stroke-width="1.2"/>
<polygon points="592.75,442.9 601.25,442.9 597,450.9" fill="#000" stroke="none" stroke-width="1.2"/>
<circle cx="610.4" cy="441.3" r="4.8" fill="#fff" stroke="#000" stroke-width="1.2"/>
<circle cx="610.4" cy="441.3" r="2.3" fill="#fff" stroke="#000" stroke-width="1.2"/>
<circle cx="623.7" cy="388" r="4.8" fill="#c4c4c4" stroke="#6a6a6a" stroke-width="1.3"/>
<circle cx="623.7" cy="388" r="2.64" fill="#a0a0a0" stroke="#505050" stroke-width="0.9"/>
<path d="M626.1 385.6 L621.3 390.4 M622.26 386.56 L625.14 389.44" stroke="#333" stroke-width="0.9"/>
<circle cx="476.6" cy="522.5" r="4.5" fill="#fff" stroke="#000" stroke-width="1.2"/>
<path d="M473.36 519.26 L479.84 525.74 M479.84 519.26 L473.36 525.74" stroke="#000" stroke-width="1.2"/>
<polygon points="500.1,508.85 509.1,508.85 504.6,517.35" fill="#c00000" stroke="none" stroke-width="1.2"/>
<rect x="546.4" y="513.7" width="9.6" height="9.6" fill="#fff" stroke="#000" stroke-width="1.2"/>
<rect x="582.8" y="513.7" width="9.6" height="9.6" fill="#fff" stroke="#000" stroke-width="1.2"/>
<rect x="605.9" y="514.7" width="9.6" height="9.6" fill="#fff" stroke="#000" stroke-width="1.2"/>
<rect x="620.9" y="509.9" width="9.6" height="9.6" fill="#fff" stroke="#000" stroke-width="1.2"/>
<text x="-0.5" y="667.2" font-size="22.5" text-anchor="start" font-weight="bold" fill="#000">(d)</text>
<rect x="101.9" y="647.2" width="232.8" height="192.2" fill="none" stroke="#333" stroke-width="1.9"/>
<line x1="101.9" y1="648.1" x2="101.9" y2="838.5" stroke="#fff" stroke-width="2.2"/>
<line x1="101.9" y1="648.1" x2="101.9" y2="838.5" stroke="#404040" stroke-width="1.4"/>
<line x1="159.5" y1="839.4" x2="159.5" y2="832.6" stroke="#8a8a8a" stroke-width="1.3"/>
<line x1="217.8" y1="839.4" x2="217.8" y2="832.6" stroke="#8a8a8a" stroke-width="1.3"/>
<line x1="276.1" y1="839.4" x2="276.1" y2="832.6" stroke="#8a8a8a" stroke-width="1.3"/>
<text x="101.2" y="870.6" font-size="20" text-anchor="middle" font-weight="bold" fill="#000">20</text>
<text x="159.5" y="870.6" font-size="20" text-anchor="middle" font-weight="bold" fill="#000">25</text>
<text x="217.8" y="870.6" font-size="20" text-anchor="middle" font-weight="bold" fill="#000">30</text>
<text x="276.1" y="870.6" font-size="20" text-anchor="middle" font-weight="bold" fill="#000">35</text>
<text x="334.4" y="870.6" font-size="20" text-anchor="middle" font-weight="bold" fill="#000">40</text>
<text x="232.3" y="897.7" font-size="22" text-anchor="middle" font-weight="bold" fill="#000" textLength="54.5" lengthAdjust="spacingAndGlyphs">2θ [°]</text>
<text transform="translate(81.9,744.5) rotate(-90)" x="0" y="0" font-size="19.5" text-anchor="middle" font-weight="bold" textLength="188.2" lengthAdjust="spacingAndGlyphs">Relative intensity [-]</text>
<text x="105.4" y="754.9" font-size="18.3" text-anchor="start" font-weight="bold" fill="#000">(ii)</text>
<text x="106.2" y="799" font-size="18.3" text-anchor="start" font-weight="bold" fill="#000">(i)</text>
<path d="M101.5 778.7 L102.5 778.73 L103.61 778.61 L104.88 777.75 L106 778 L106.94 777.92 L108.17 777.67 L108.89 778.27 L110.15 777.93 L111 777.6 L111.91 776.71 L112.91 776.06 L114 776 L114.82 775.71 L115.96 775.46 L117 775.1 L117.95 775.19 L119.08 776.54 L120 777 L121.13 777.14 L122.31 777.7 L123.5 777.49 L124.43 777.13 L125.55 777.94 L126.7 777.5 L127.69 777.29 L128.74 776.93 L130.01 776.69 L130.89 777.62 L131.79 777.18 L132.88 776.69 L133.84 776.47 L135 776.8 L136.14 776.97 L137.16 776.02 L138.08 776.18 L139.06 776.28 L139.93 776.6 L140.8 776.21 L142 775.8 L143.26 775.6 L144.27 775.92 L145.24 775.3 L146.55 774.81 L147.66 774.61 L148.7 774.64 L149.8 774.3 L150.6 773.17 L151.32 772.48 L152 771.5 L152.99 770.77 L154.2 769.8 L154.91 771.35 L155.8 772 L156.64 772.99 L157.5 773.5 L158.51 772.97 L159.39 772.11 L160.5 772 L161.65 771.63 L162.46 771.23 L163.55 770.51 L164.4 770.4 L165.04 770.02 L165.92 769.09 L166.83 768.63 L167.61 766.96 L168.19 767.1 L169 766 L169.81 764.69 L170.23 763.93 L170.9 763.14 L171.86 762.42 L172.41 761.05 L173.07 761.15 L173.8 759.7 L174.23 758.67 L174.49 758.08 L174.95 756.39 L175.27 755.65 L175.56 754.54 L175.85 753.67 L176.2 752.34 L176.48 751.98 L176.77 750.57 L177.39 749.7 L177.58 748.69 L178 748 L178.36 746.54 L178.5 746.37 L178.55 744.88 L179.01 744.09 L179.06 742.44 L179.31 741.79 L179.64 740.7 L179.74 740.07 L180 738.9 L180.24 737.74 L180.19 737 L180.52 735.58 L180.66 735.16 L180.54 734.11 L180.64 732.46 L180.93 731.81 L180.95 730.94 L181.22 730.24 L180.99 729.06 L181.28 727.92 L181.55 726.88 L181.52 726.41 L181.62 724.97 L181.77 724.35 L181.95 723.26 L182 722 L182.17 720.51 L182.49 720.08 L182.74 719.33 L182.69 717.74 L182.89 717.4 L183.11 715.61 L183.58 715.15 L183.51 714.29 L183.9 713.1 L184.52 714.05 L184.79 715.24 L185.5 716 L185.87 717.14 L186.5 718.45 L186.85 718.76 L187.1 720.2 L188.38 719.77 L189.8 719.3 L189.76 718.82 L190.02 717 L190.2 715.97 L190.57 715.28 L190.59 714.11 L190.56 712.96 L191.05 712.48 L191.2 710.86 L191.1 709.61 L191.39 708.95 L191.51 708.05 L191.72 706.9 L191.96 705.69 L192 705 L192.31 704.06 L192.11 702.8 L192.45 701.9 L192.61 700.81 L192.64 700.33 L192.8 699.23 L193.15 698.1 L193.16 697.48 L193.3 696.42 L193.29 694.93 L193.67 693.5 L193.91 692.53 L193.95 691.65 L194.23 691.07 L194.33 690 L194.42 689.19 L194.5 688 L194.64 686.68 L195.08 685.61 L195.33 684.68 L195.23 683.55 L195.72 683.5 L195.8 682.17 L195.96 681.45 L196.35 679.62 L196.5 679 L197.4 677.6 L198.02 679.02 L199 680 L199.17 681.38 L199.63 681.73 L200.1 682.83 L200.45 683.66 L200.94 684.86 L201.27 685.68 L201.61 687.61 L201.8 687.58 L202.2 689.1 L202.37 690.25 L202.52 691.13 L202.68 692.04 L203.15 692.99 L203.35 693.64 L203.62 694.64 L203.88 696.59 L204.1 697.07 L204.05 697.86 L204.45 699.02 L204.74 699.57 L204.78 701.41 L205 702 L205.22 703.05 L205.19 703.61 L205.45 705.45 L205.85 705.72 L206.06 706.51 L206.11 708.55 L206.19 709.53 L206.49 709.55 L206.54 710.99 L206.69 712.32 L206.84 713.37 L207.07 713.59 L207.35 714.62 L207.53 716.39 L207.72 717.04 L207.68 718.1 L207.88 719.25 L208.07 720.18 L208.4 721.1 L208.6 721.95 L208.99 722.71 L209.05 724.56 L209.37 725.44 L209.85 726.03 L209.82 726.59 L210.37 727.61 L210.48 729.06 L210.59 729.97 L211 731 L211.12 732.08 L211.51 732.93 L211.64 734 L211.9 734.74 L212.17 736.59 L212.53 737.65 L212.59 738.74 L213.03 739.61 L213.32 740.54 L213.44 741.64 L213.8 742.4 L214.15 743.12 L214.59 744.23 L215.27 745.1 L215.91 745.84 L216.27 746.98 L216.76 748.56 L217.3 748.74 L217.7 750.2 L218.31 751.19 L219.33 751.46 L219.9 753.06 L220.69 753.56 L221.41 754.57 L222 755.5 L222.96 755.61 L223.75 756.7 L224.33 757 L225.05 758.36 L226.01 758.37 L226.66 759 L227.39 759.74 L228.3 760.7 L228.66 760.3 L229.35 759.17 L229.57 757.92 L230 757 L230.71 756.45 L231.3 755.15 L231.8 754 L232.1 755.14 L232.79 756.32 L232.91 757.24 L233.5 758 L233.94 758.57 L234.69 760.08 L235.1 760.43 L235.63 762.25 L236.16 762.98 L236.63 763.99 L237 764.6 L238 764.91 L239.05 765.67 L240.03 765.52 L241.02 766.15 L241.8 766.5 L242.78 765.44 L243.59 765.55 L244.1 764.97 L244.89 763.63 L245.78 763.04 L246.6 762.7 L247.45 763.85 L248.37 764.33 L249.11 765.11 L250 765.5 L251.19 766.2 L252.33 766.86 L253.19 766.55 L254.3 767.5 L255.16 766.99 L255.84 765.85 L256.83 765.2 L257.5 764 L258.3 763.22 L259.31 762.04 L260.5 761.7 L261.29 762.71 L261.88 763.85 L262.5 765 L263.03 765.65 L263.64 767.31 L264.3 767.9 L264.79 766.69 L265.02 765.69 L265.7 764.9 L266.12 764.32 L266.5 763 L266.91 762.36 L267.44 761.68 L268.05 760.23 L268.92 759.49 L269.3 758.8 L269.61 760.28 L270.19 761.33 L270.53 761.95 L271 763 L271.58 764.13 L272 764.91 L272.33 766 L272.6 767.5 L273.74 767.28 L274.74 768.66 L276 768.5 L277.08 768.64 L278.1 767.94 L279.3 767.9 L279.59 767.05 L280.34 766.1 L280.59 765.64 L281.24 764.45 L281.36 763.49 L281.95 762.95 L282.36 761.71 L282.92 760.49 L283.32 759.91 L283.92 758.81 L284.2 757.9 L284.85 757.45 L285.42 756.32 L286.37 755.04 L287 754 L287.21 753.28 L287.61 752.25 L287.78 750.49 L287.84 749.6 L288.32 749.43 L288.22 748.1 L288.62 746.5 L288.78 746.27 L289.1 744.76 L289.38 743.77 L289.5 743 L289.72 741.9 L290.09 741.15 L290.22 740.17 L290.25 739.48 L290.58 738.17 L290.61 736.58 L290.93 736.3 L291.22 734.77 L291.16 733.94 L291.65 732.55 L291.8 731.55 L291.9 730.9 L291.94 729.41 L292.05 728.78 L292.43 728.42 L292.23 726.71 L292.64 725.59 L292.51 724.86 L292.53 723.67 L292.76 722.81 L293.1 721.68 L292.91 721.39 L293.12 720.32 L293.31 719.26 L293.3 717.57 L293.59 716.93 L293.62 716.15 L293.81 714.72 L293.77 714.43 L293.95 712.75 L294.1 711.72 L294.27 710.48 L294.4 710.06 L294.33 709.48 L294.5 708 L294.53 706.72 L294.57 706.05 L294.97 705.2 L294.95 704.34 L294.95 702.79 L295.29 702.51 L295.4 701.21 L295.58 699.88 L295.77 699.27 L295.65 697.88 L295.96 696.83 L295.83 696.41 L296.09 695.02 L296.2 694 L296.72 693.14 L297.1 691.4 L297.23 692.34 L297.49 693.54 L297.94 695.15 L298.29 695.97 L298.5 697 L298.56 698.08 L298.61 699.38 L298.92 700.37 L298.76 701.19 L299.1 702 L299.26 703.44 L299.3 704.35 L299.36 705.42 L299.25 706.22 L299.58 707.12 L299.51 707.52 L299.74 709.36 L299.71 709.68 L299.79 710.55 L300 712 L300.15 713.57 L300.29 713.95 L300.33 714.68 L300.47 716.01 L300.22 717.39 L300.36 718.05 L300.41 719.29 L300.69 720.74 L300.57 721.81 L300.68 722.2 L300.97 723.37 L300.93 724.68 L300.97 725.97 L301.05 727.07 L301.37 727.79 L301.15 729.11 L301.23 729.86 L301.5 730.9 L301.59 731.43 L301.79 733.16 L301.89 733.81 L301.98 735.02 L301.98 736.33 L302.4 737.27 L302.51 737.75 L302.64 738.48 L302.55 739.55 L302.66 741.16 L302.88 741.91 L302.85 742.63 L302.99 743.74 L303.02 745.24 L303.27 745.92 L303.26 747.22 L303.5 748 L303.54 748.81 L303.85 750.37 L304.18 751.49 L304.33 752.75 L304.41 753.61 L304.31 754.11 L304.45 755.91 L304.9 756.73 L304.88 757.5 L305 758.87 L305.3 759.8 L305.96 760.49 L306.04 761.24 L306.63 762.94 L307.27 763.35 L307.45 763.87 L307.94 765.51 L308.53 766.64 L309 767 L309.79 768.22 L310.24 769.15 L310.73 769.27 L311.53 770.61 L312.01 771.23 L312.56 772.85 L313.46 773.79 L314 774.2 L315.19 774.51 L316.09 774.84 L317.12 775.73 L317.85 775.2 L318.89 776.21 L320 776.5 L321.07 776.08 L322.37 777.05 L323.35 776.36 L324.64 777.02 L325.6 777.1 L326.56 776.21 L327.92 776.12 L329 775 L329.65 774.23 L330.2 772.88 L331.14 772.11 L331.48 771.42 L332.3 770.4 L332.65 771.02 L333.28 772.39 L333.85 773.48 L334.3 774.2" fill="none" stroke="#c00000" stroke-width="3.9" stroke-linejoin="round" stroke-linecap="round"/>
<path d="M101.5 812.9 L102.51 812.4 L103.67 812.36 L104.6 812.72 L105.72 813.04 L106.59 812.95 L107.81 812.73 L108.63 813.19 L109.85 812.23 L110.74 813.23 L111.78 812.55 L113.04 813 L114.02 812.89 L115 812.6 L115.82 812.13 L117.19 812.89 L117.82 812.04 L118.9 812.99 L119.89 812.69 L121.17 812.63 L122.17 812.2 L122.86 811.91 L124.1 811.98 L125.19 812.63 L125.87 812.72 L126.87 812.37 L127.84 812.66 L129.16 812.78 L130 812.3 L130.8 812.68 L132.02 812.64 L133 812.42 L134.04 812.61 L134.83 811.78 L136.02 812.04 L136.96 811.72 L138.1 811.74 L139.13 812.6 L139.98 811.83 L141.06 811.92 L141.97 811.81 L143.19 812.29 L143.94 811.78 L145.09 812.61 L146.14 811.78 L146.95 812 L148.1 811.82 L149.04 812.73 L150 812.2 L151.14 811.65 L151.9 811.75 L153.18 812.27 L154.15 812.1 L155.14 812.26 L156.27 812.59 L157.34 812.44 L158.45 812.48 L159.4 811.58 L160.43 812.47 L161.36 812.49 L162.3 812.55 L163.44 812.27 L164.4 811.82 L165.47 811.83 L166.4 811.95 L167.6 812 L168.68 811.57 L169.54 811.09 L170.38 810.74 L171.23 809.35 L171.92 808.9 L172.9 808.4 L173.61 807.38 L174.85 807.41 L175.53 806.52 L176.5 805.5 L177.78 805.6 L178.95 804.87 L180 804.5 L180.84 805.11 L181.93 805.14 L182.95 805.29 L184 805.5 L185.17 805.65 L185.97 806.7 L186.96 807.54 L187.88 808.04 L188.9 808.1 L190 808.65 L190.78 807.86 L191.87 808.67 L192.79 808 L194 808.3 L195.21 808.76 L196.11 808.07 L197.43 808.27 L198.58 808.26 L199.6 807.9 L200.54 807.61 L201.49 808.07 L202.6 807.58 L203.95 807.98 L204.84 807.97 L205.88 807.99 L206.8 807.28 L207.75 807.21 L208.9 807.33 L210 807.7 L210.85 807.68 L212.19 807.89 L212.91 807.97 L213.87 807.22 L214.92 807.55 L216.08 807.58 L217.09 807.18 L218.17 807.45 L219.13 807.09 L220 807.6 L221.15 807.27 L222.18 807.87 L223.12 807.26 L223.87 807.13 L225.25 807.06 L226.1 807.4 L227.23 807.54 L228.3 807.14 L229.17 807.1 L230.57 807.46 L231.51 807.71 L232.4 807.2 L233.39 808.11 L234.51 808.28 L235.67 808.06 L236.65 808.18 L237.76 807.76 L238.94 807.53 L240 808 L240.9 808.38 L241.91 807.99 L243.11 807.87 L243.88 807.92 L244.95 808.14 L246.06 808.32 L247.15 807.91 L248.07 808.84 L248.89 808.01 L249.98 808.16 L250.98 808.87 L252 808.7 L252.9 808.32 L254.12 808.43 L255.09 808.76 L256.1 808.4 L257.27 808.88 L258.56 809.02 L259.28 808.69 L260.61 809.11 L261.73 809.59 L262.79 808.7 L263.88 809.2 L264.67 808.85 L265.98 808.94 L266.9 809.3 L267.75 809.28 L269.11 809.74 L270.05 809.55 L270.96 810.06 L272 810.5 L272.91 810.83 L273.99 810.38 L275.27 810.93 L276.1 811.1 L277.07 810.04 L278.36 810.07 L279.21 809.49 L280.5 809 L281.58 808.5 L282.35 807.92 L283.48 807.55 L284.28 807.17 L285.4 806.3 L286.78 806.13 L287.94 805.29 L289 805 L290.43 804.45 L291.42 804.71 L292.8 804.4 L294.31 804.24 L295.5 805 L296.32 805.12 L297.34 805.87 L298.3 806.9 L299.12 807.69 L300.21 808.42 L301.08 808.66 L301.87 809.47 L303 809.5 L303.81 809.95 L304.84 810.95 L305.76 811.48 L306.73 811.11 L307.6 811.9 L308.81 811.71 L309.96 812.13 L310.73 812.83 L311.85 812.36 L313 812.6 L314.08 812.87 L315.09 812.62 L316.28 813.2 L317.36 813.04 L318.7 813 L319.65 813.04 L320.81 813.4 L321.68 812.97 L322.72 813.85 L323.77 813.03 L324.97 813.6 L326 813.6 L327.19 813.2 L327.97 813.41 L329.15 813.81 L330.11 814.38 L331.25 814.43 L332.41 813.87 L333.44 814.11 L334.3 814.3" fill="none" stroke="#000" stroke-width="3.6" stroke-linejoin="round" stroke-linecap="round"/>
<circle cx="156.5" cy="758.4" r="4.5" fill="#fff" stroke="#000" stroke-width="1.2"/>
<path d="M153.26 755.16 L159.74 761.64 M159.74 755.16 L153.26 761.64" stroke="#000" stroke-width="1.2"/>
<circle cx="184.4" cy="704.8" r="4.5" fill="#fff" stroke="#000" stroke-width="1.2"/>
<path d="M181.16 701.56 L187.64 708.04 M187.64 701.56 L181.16 708.04" stroke="#000" stroke-width="1.2"/>
<circle cx="195.6" cy="667.8" r="4.5" fill="#fff" stroke="#000" stroke-width="1.2"/>
<path d="M192.36 664.56 L198.84 671.04 M198.84 664.56 L192.36 671.04" stroke="#000" stroke-width="1.2"/>
<circle cx="231.8" cy="744" r="4.5" fill="#fff" stroke="#000" stroke-width="1.2"/>
<path d="M228.56 740.76 L235.04 747.24 M235.04 740.76 L228.56 747.24" stroke="#000" stroke-width="1.2"/>
<circle cx="259.7" cy="752.7" r="4.5" fill="#fff" stroke="#000" stroke-width="1.2"/>
<path d="M256.46 749.46 L262.94 755.94 M262.94 749.46 L256.46 755.94" stroke="#000" stroke-width="1.2"/>
<polygon points="264.8,743.95 273.8,743.95 269.3,752.45" fill="#000" stroke="none" stroke-width="1.2"/>
<polygon points="289.75,674.95 301.05,674.95 296.6,679.9 301.05,684.85 289.75,684.85 294.2,679.9" fill="#000"/>
<circle cx="180.9" cy="794.2" r="4.5" fill="#fff" stroke="#000" stroke-width="1.2"/>
<path d="M177.66 790.96 L184.14 797.44 M184.14 790.96 L177.66 797.44" stroke="#000" stroke-width="1.2"/>
<polygon points="289.35,788.95 300.65,788.95 296.2,793.9 300.65,798.85 289.35,798.85 293.8,793.9" fill="#000"/>
<polygon points="452,657.55 459.75,665.3 452,673.05 444.25,665.3" fill="#fff" stroke="#000" stroke-width="1.5"/>
<text x="467.3" y="672.8" font-size="19.5" text-anchor="start" font-weight="bold" fill="#000">Ti<tspan font-size="13.5" dy="4.5">2</tspan><tspan dy="-4.5">O</tspan><tspan font-size="13.5" dy="4.5">3</tspan></text>
<circle cx="452.2" cy="703" r="5.2" fill="#c4c4c4" stroke="#6a6a6a" stroke-width="1.3"/>
<circle cx="452.2" cy="703" r="2.86" fill="#a0a0a0" stroke="#505050" stroke-width="0.9"/>
<path d="M454.8 700.4 L449.6 705.6 M450.64 701.44 L453.76 704.56" stroke="#333" stroke-width="0.9"/>
<text x="467.3" y="711.3" font-size="19.5" text-anchor="start" font-weight="bold" fill="#000">Ti<tspan font-size="13.5" dy="4.5">2.5</tspan><tspan dy="-4.5">O</tspan><tspan font-size="13.5" dy="4.5">3</tspan></text>
<rect x="448.1" y="737.1" width="9.8" height="9.8" fill="#fff" stroke="#000" stroke-width="1.2"/>
<text x="468.2" y="750.2" font-size="19.5" text-anchor="start" font-weight="bold" fill="#000">Ti<tspan font-size="13.5" dy="4.5">3</tspan><tspan dy="-4.5">O</tspan><tspan font-size="13.5" dy="4.5">5</tspan></text>
<polygon points="447.5,776.75 456.5,776.75 452,785.25" fill="#c00000" stroke="none" stroke-width="1.2"/>
<text x="467.3" y="786.5" font-size="19.5" text-anchor="start" font-weight="bold" fill="#000">Ti<tspan font-size="13.5" dy="4.5">4</tspan><tspan dy="-4.5">O</tspan><tspan font-size="13.5" dy="4.5">7</tspan></text>
<polygon points="452.5,815 458,820 452.5,825 447,820" fill="#000" stroke="#000" stroke-width="1.2"/>
<text x="469.1" y="829.2" font-size="19.5" text-anchor="start" font-weight="bold" fill="#000">Ti<tspan font-size="13.5" dy="4.5">4.5</tspan><tspan dy="-4.5">O</tspan><tspan font-size="13.5" dy="4.5">5</tspan></text>
<circle cx="544.7" cy="667.4" r="4.6" fill="#fff" stroke="#000" stroke-width="1.2"/>
<path d="M541.39 664.09 L548.01 670.71 M548.01 664.09 L541.39 670.71" stroke="#000" stroke-width="1.2"/>
<text x="563" y="672.9" font-size="19.5" text-anchor="start" font-weight="bold" fill="#000">TiO<tspan font-size="13.5" dy="4.5">2</tspan></text>
<polygon points="541.2,701.75 550.2,701.75 545.7,710.25" fill="#fff" stroke="#000" stroke-width="1.2"/>
<text x="564" y="713.8" font-size="19.5" text-anchor="start" font-weight="bold" fill="#000">Ti<tspan font-size="13.5" dy="4.5">8</tspan><tspan dy="-4.5">O</tspan><tspan font-size="13.5" dy="4.5">15</tspan></text>
<rect x="541.4" y="734.9" width="10" height="10" fill="#000" stroke="none" stroke-width="1.2"/>
<text x="564.7" y="750.5" font-size="19.5" text-anchor="start" font-weight="bold" fill="#000">Ti<tspan font-size="13.5" dy="4.5">2</tspan><tspan dy="-4.5">C</tspan></text>
<polygon points="543,777.45 554,777.45 549.7,782.2 554,786.95 543,786.95 547.3,782.2" fill="#000"/>
<text x="567.2" y="790" font-size="19.5" text-anchor="start" font-weight="bold" fill="#000">TiH<tspan font-size="13.5" dy="4.5">0.5</tspan></text>
<polygon points="543.75,817.1 553.25,817.1 548.5,826.5" fill="#000" stroke="none" stroke-width="1.2"/>
<text x="566.1" y="828.1" font-size="19.5" text-anchor="start" font-weight="bold" fill="#000">TiH<tspan font-size="13.5" dy="4.5">2</tspan></text>
</svg></body></html>
